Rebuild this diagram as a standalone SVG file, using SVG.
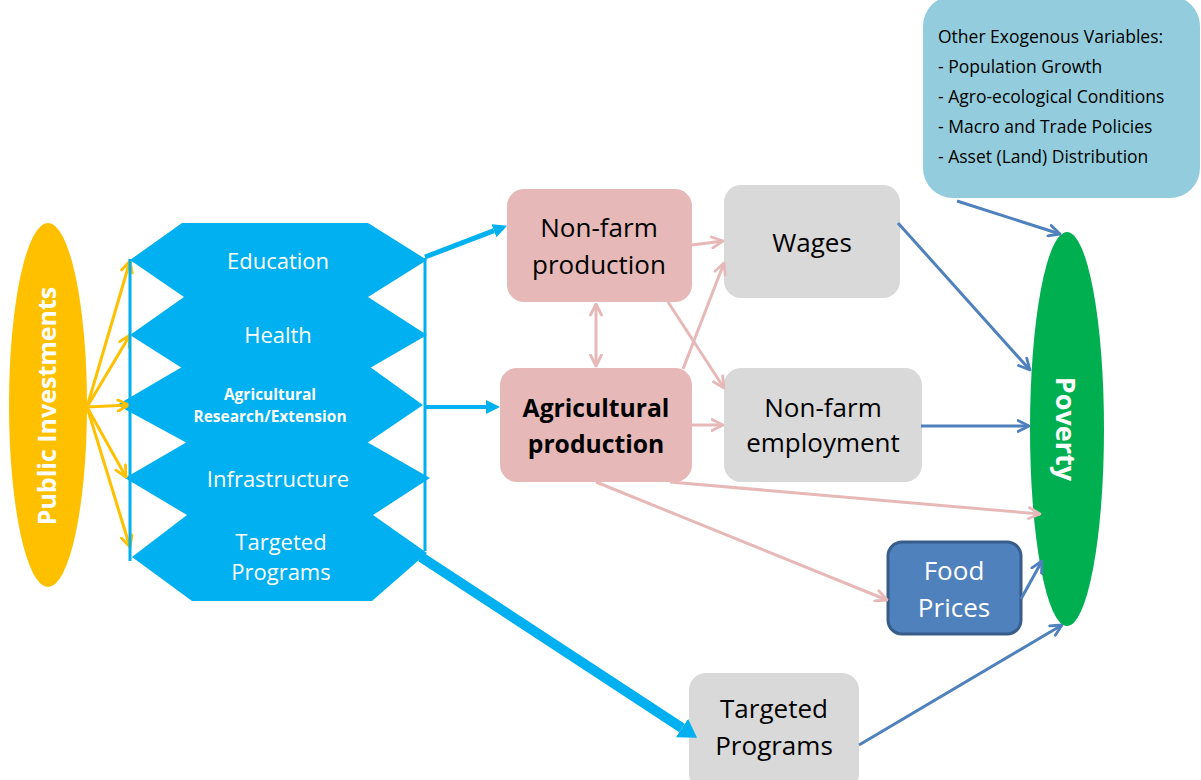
<svg xmlns="http://www.w3.org/2000/svg" width="1201" height="780" viewBox="0 0 1201 780">
  <style>
    .t { font-family: "Open Sans", "Liberation Sans", sans-serif; text-anchor: middle; }
    .dark { fill: #000000; }
    .white { fill: #FFFFFF; }
    .hex { fill: #00B0F0; }
    .pink { fill: #E6B9B8; }
    .grey { fill: #D9D9D9; }
    .cn-pink { stroke: #E6B9B8; stroke-width: 3; fill: none; }
    .cn-blue { stroke: #4F81BD; stroke-width: 3; fill: none; }
    .cn-gold { stroke: #FFC000; stroke-width: 3; fill: none; }
    .cn-cyan { stroke: #00B0F0; fill: none; }
  </style>
  <defs>
    <marker id="open-pink" viewBox="0 0 14 14" refX="12.5" refY="7" markerWidth="14" markerHeight="14" markerUnits="userSpaceOnUse" orient="auto-start-reverse">
      <path d="M1.5,1.5 L12.5,7 L1.5,12.5" fill="none" stroke="#E6B9B8" stroke-width="2.8" stroke-linecap="round" stroke-linejoin="round"/>
    </marker>
    <marker id="open-blue" viewBox="0 0 14 14" refX="12.5" refY="7" markerWidth="14" markerHeight="14" markerUnits="userSpaceOnUse" orient="auto">
      <path d="M1.5,1.5 L12.5,7 L1.5,12.5" fill="none" stroke="#4F81BD" stroke-width="2.8" stroke-linecap="round" stroke-linejoin="round"/>
    </marker>
    <marker id="open-gold" viewBox="0 0 14 14" refX="12.5" refY="7" markerWidth="14" markerHeight="14" markerUnits="userSpaceOnUse" orient="auto">
      <path d="M1.5,1.5 L12.5,7 L1.5,12.5" fill="none" stroke="#FFC000" stroke-width="2.8" stroke-linecap="round" stroke-linejoin="round"/>
    </marker>
    <marker id="solid-cyan" viewBox="0 0 14 14" refX="0" refY="7" markerWidth="14" markerHeight="14" markerUnits="userSpaceOnUse" orient="auto">
      <path d="M0,0 L14,7 L0,14 z" fill="#00B0F0"/>
    </marker>
    <marker id="solid-cyan-big" viewBox="0 0 18 22" refX="0" refY="11" markerWidth="18" markerHeight="22" markerUnits="userSpaceOnUse" orient="auto">
      <path d="M0,0 L18,11 L0,22 z" fill="#00B0F0"/>
    </marker>
  </defs>

  <!-- Public investments -->
  <g id="public-investments">
    <ellipse cx="48" cy="405" rx="39" ry="182" fill="#FFC000"/>
    <text class="t white" transform="translate(56,406) rotate(-90)" font-size="25" font-weight="bold">Public Investments</text>
  </g>

  <!-- Investment categories (stacked hexagons) -->
  <g id="hex-education">
    <polygon class="hex" points="130,260 182,223 368,223 427,260 368,297 184,297"/>
    <text class="t white" x="278" y="269" font-size="22">Education</text>
  </g>
  <g id="hex-health">
    <polygon class="hex" points="130,335 184,297 368,297 427,335 370,368 182,368"/>
    <text class="t white" x="278" y="343" font-size="22">Health</text>
  </g>
  <g id="hex-agri-research">
    <polygon class="hex" points="117,405 182,367 370,367 423,405 367,443 187,443"/>
    <text class="t white" x="270" y="400" font-size="15.5" font-weight="bold">Agricultural</text>
    <text class="t white" x="270" y="422" font-size="15.5" font-weight="bold">Research/Extension</text>
  </g>
  <g id="hex-infrastructure">
    <polygon class="hex" points="125,478 187,442 367,442 430,478 373,515 187,515"/>
    <text class="t white" x="278" y="487" font-size="22">Infrastructure</text>
  </g>
  <g id="hex-targeted">
    <polygon class="hex" points="132,557 187,515 373,515 427,553 372,601 192,601"/>
    <text class="t white" x="281" y="550" font-size="22">Targeted</text>
    <text class="t white" x="281" y="580" font-size="22">Programs</text>
  </g>

  <!-- Production nodes -->
  <g id="nonfarm-production">
    <rect class="pink" x="507" y="189" width="185" height="113" rx="17"/>
    <text class="t dark" x="599" y="237" font-size="26">Non-farm</text>
    <text class="t dark" x="599" y="274" font-size="26">production</text>
  </g>
  <g id="agricultural-production">
    <rect class="pink" x="500" y="368" width="192" height="114" rx="17"/>
    <text class="t dark" x="596" y="417" font-size="24.7" font-weight="bold">Agricultural</text>
    <text class="t dark" x="596" y="453" font-size="24.7" font-weight="bold">production</text>
  </g>

  <!-- Intermediate outcomes -->
  <g id="wages">
    <rect class="grey" x="724" y="185" width="176" height="113" rx="17"/>
    <text class="t dark" x="812" y="252" font-size="26">Wages</text>
  </g>
  <g id="nonfarm-employment">
    <rect class="grey" x="724" y="368" width="198" height="114" rx="17"/>
    <text class="t dark" x="823" y="417" font-size="26">Non-farm</text>
    <text class="t dark" x="823" y="452" font-size="26">employment</text>
  </g>
  <g id="food-prices">
    <rect x="888" y="542" width="133" height="92" rx="14" fill="#4F81BD" stroke="#385D8A" stroke-width="3"/>
    <text class="t white" x="954" y="580" font-size="26">Food</text>
    <text class="t white" x="954" y="617" font-size="26">Prices</text>
  </g>
  <g id="targeted-programs">
    <rect class="grey" x="689" y="673" width="170" height="118" rx="17"/>
    <text class="t dark" x="774" y="718" font-size="26">Targeted</text>
    <text class="t dark" x="774" y="755" font-size="26">Programs</text>
  </g>

  <!-- Exogenous factors -->
  <g id="exogenous">
    <rect x="923" y="-4" width="277" height="202" rx="30" fill="#93CDDD"/>
    <g font-family="Open Sans, Liberation Sans, sans-serif" font-size="17.5" fill="#000000">
      <text x="938" y="43">Other Exogenous Variables:</text>
      <text x="938" y="73">- Population Growth</text>
      <text x="938" y="103">- Agro-ecological Conditions</text>
      <text x="938" y="133">- Macro and Trade Policies</text>
      <text x="938" y="163">- Asset (Land) Distribution</text>
    </g>
  </g>

  <!-- Outcome -->
  <g id="poverty">
    <ellipse cx="1067" cy="429" rx="37" ry="197" fill="#00B050"/>
    <text class="t white" transform="translate(1056,429) rotate(90)" font-size="27" font-weight="bold">Poverty</text>
  </g>

  <!-- Connectors -->
  <g id="connectors">
    <!-- public investments fan-out -->
    <line class="cn-gold" x1="87" y1="407" x2="130" y2="261" marker-end="url(#open-gold)"/>
    <line class="cn-gold" x1="87" y1="407" x2="130" y2="335" marker-end="url(#open-gold)"/>
    <line class="cn-gold" x1="87" y1="407" x2="129" y2="405" marker-end="url(#open-gold)"/>
    <line class="cn-gold" x1="87" y1="407" x2="126" y2="477" marker-end="url(#open-gold)"/>
    <line class="cn-gold" x1="87" y1="407" x2="130" y2="547" marker-end="url(#open-gold)"/>

    <!-- brackets joining the investment categories -->
    <line class="cn-cyan" stroke-width="3" x1="130" y1="259" x2="130" y2="561"/>
    <line class="cn-cyan" stroke-width="3" x1="425" y1="258" x2="425" y2="551"/>

    <!-- investments to production and programmes -->
    <line class="cn-cyan" stroke-width="5" x1="425" y1="257" x2="494" y2="230.7" marker-end="url(#solid-cyan)"/>
    <line class="cn-cyan" stroke-width="4" x1="425" y1="407" x2="486" y2="407" marker-end="url(#solid-cyan)"/>
    <line class="cn-cyan" stroke-width="10" x1="421" y1="557" x2="682" y2="728" marker-end="url(#solid-cyan-big)"/>

    <!-- production links -->
    <line class="cn-pink" x1="692" y1="245" x2="723" y2="241" marker-end="url(#open-pink)"/>
    <line class="cn-pink" x1="596" y1="304" x2="596" y2="366" marker-start="url(#open-pink)" marker-end="url(#open-pink)"/>
    <line class="cn-pink" x1="683" y1="369" x2="724" y2="263" marker-end="url(#open-pink)"/>
    <line class="cn-pink" x1="668" y1="302" x2="724" y2="388" marker-end="url(#open-pink)"/>
    <line class="cn-pink" x1="692" y1="425" x2="723" y2="425" marker-end="url(#open-pink)"/>
    <line class="cn-pink" x1="670" y1="482" x2="1040" y2="514" marker-end="url(#open-pink)"/>
    <line class="cn-pink" x1="596" y1="482" x2="887" y2="600" marker-end="url(#open-pink)"/>

    <!-- drivers of poverty -->
    <line class="cn-blue" x1="957" y1="201" x2="1060" y2="234" marker-end="url(#open-blue)"/>
    <line class="cn-blue" x1="898" y1="223" x2="1030" y2="370" marker-end="url(#open-blue)"/>
    <line class="cn-blue" x1="921" y1="426" x2="1029" y2="426" marker-end="url(#open-blue)"/>
    <line class="cn-blue" x1="1021" y1="599" x2="1042" y2="561" marker-end="url(#open-blue)"/>
    <line class="cn-blue" x1="859" y1="745" x2="1062" y2="625" marker-end="url(#open-blue)"/>
  </g>
</svg>
